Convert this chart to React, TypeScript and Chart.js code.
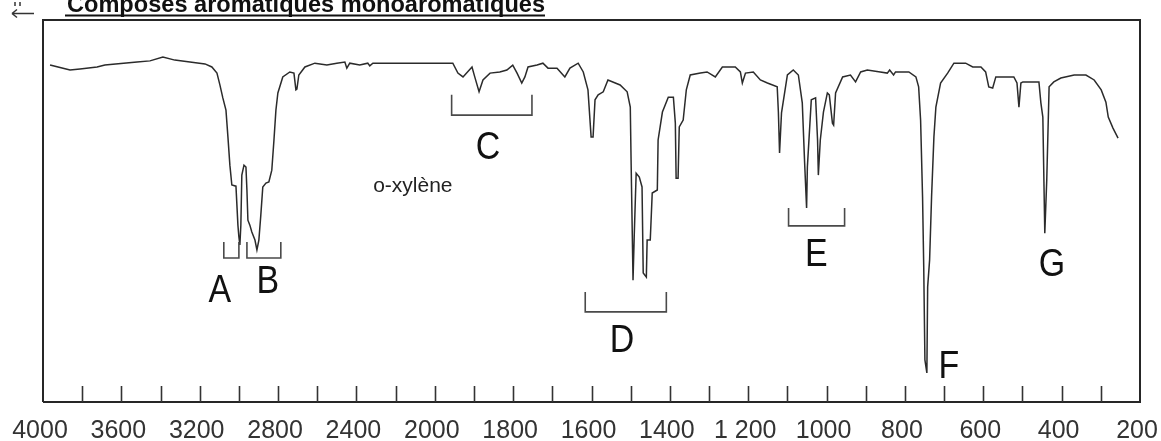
import React, { useEffect, useRef } from 'react';
import { Chart, LineController, LineElement, PointElement, LinearScale } from 'chart.js';

// ---------- data (wavenumber in cm-1, transmittance in %) ----------
const WAVENUMBERS = [
  3964, 3923, 3862, 3811, 3724, 3684, 3520, 3454, 3388, 3327, 3250, 3173, 3138, 3112, 3097, 3082, 3066, 3056,
  3046, 3036, 3015, 3005, 3000, 2995, 2990, 2985, 2974, 2964, 2959, 2954, 2944, 2934, 2918, 2908, 2898, 2888,
  2878, 2862, 2847, 2832, 2821, 2811, 2801, 2776, 2740, 2719, 2709, 2704, 2694, 2663, 2612, 2551, 2500, 2459,
  2449, 2434, 2383, 2342, 2332, 2316, 1954, 1941, 1928, 1905, 1898, 1887, 1877, 1859, 1834, 1816, 1801, 1790,
  1778, 1770, 1762, 1739, 1724, 1711, 1688, 1668, 1655, 1634, 1621, 1609, 1601, 1596, 1591, 1583, 1570, 1558,
  1527, 1509, 1501, 1499, 1494, 1491, 1486, 1478, 1471, 1468, 1460, 1458, 1450, 1445, 1432, 1430, 1419, 1404,
  1391, 1386, 1384, 1379, 1376, 1366, 1358, 1348, 1322, 1305, 1284, 1266, 1233, 1220, 1215, 1207, 1187, 1169,
  1151, 1126, 1123, 1120, 1115, 1100, 1085, 1072, 1062, 1056, 1051, 1049, 1039, 1028, 1023, 1021, 1016, 1008,
  998, 993, 985, 982, 977, 959, 939, 926, 913, 896, 863, 845, 839, 829, 824, 790, 772, 765,
  760, 755, 752, 749, 744, 742, 737, 732, 726, 721, 709, 691, 675, 645, 627, 606, 594, 586,
  576, 568, 522, 514, 509, 504, 499, 458, 453, 448, 443, 438, 432, 420, 402, 368, 338, 317,
  299, 287, 281, 269, 256,
];
const TRANSMITTANCE = [
  88.2, 87.7, 86.9, 87.2, 87.7, 88.2, 89.0, 89.3, 90.3, 89.5, 89.0, 88.5, 87.7, 86.1, 83.0, 79.6, 76.4, 69.4,
  62.0, 56.8, 56.5, 46.3, 43.2, 41.1, 46.3, 59.4, 62.0, 61.5, 55.5, 47.6, 46.3, 44.5, 42.4, 39.8, 42.4, 49.0,
  56.3, 57.3, 57.6, 60.7, 68.6, 76.4, 80.9, 85.1, 86.4, 86.1, 81.7, 81.9, 85.6, 87.7, 88.7, 88.2, 88.7, 89.0,
  87.4, 88.7, 88.2, 88.7, 88.0, 88.7, 88.7, 86.1, 85.1, 87.7, 85.1, 81.2, 84.3, 86.1, 86.4, 86.9, 88.2, 86.1,
  83.5, 85.1, 87.7, 88.2, 88.7, 87.4, 87.4, 85.1, 87.4, 88.7, 86.4, 81.7, 69.4, 69.4, 79.1, 80.4, 81.2, 84.3,
  83.0, 81.2, 77.2, 63.4, 31.9, 43.2, 59.9, 58.9, 56.3, 33.8, 32.7, 42.4, 42.4, 54.7, 55.5, 68.6, 75.9, 79.8,
  79.8, 73.0, 58.6, 58.6, 72.0, 73.8, 81.7, 85.6, 86.1, 86.4, 85.1, 87.7, 87.7, 86.4, 83.5, 86.1, 86.4, 84.3,
  83.5, 82.5, 75.9, 65.2, 75.7, 85.6, 86.9, 85.6, 78.3, 62.6, 50.8, 61.5, 79.1, 79.6, 68.6, 59.4, 68.6, 75.9,
  80.9, 80.4, 73.0, 72.5, 80.9, 85.1, 85.6, 83.8, 86.4, 86.9, 86.4, 86.1, 86.9, 85.6, 86.4, 86.4, 85.1, 82.5,
  73.8, 53.7, 35.3, 11.0, 7.6, 30.1, 37.2, 53.7, 69.4, 77.2, 83.5, 86.1, 88.7, 88.7, 87.7, 87.7, 86.4, 82.5,
  82.2, 85.1, 85.1, 83.5, 77.2, 83.5, 83.8, 83.8, 78.3, 74.6, 44.2, 58.1, 82.5, 83.8, 84.8, 85.6, 85.6, 84.3,
  81.7, 78.5, 74.6, 71.7, 69.1,
];

// ---------- axis ----------
const AXIS_START = 4000;
const AXIS_BREAK = 2000;
const AXIS_END = 200;
const EXPAND_BELOW_BREAK = 2;
const TICK_VALUES = [
  4000, 3800, 3600, 3400, 3200, 3000, 2800, 2600, 2400, 2200, 2000,
  1900, 1800, 1700, 1600, 1500, 1400, 1300, 1200, 1100, 1000, 900, 800, 700, 600, 500, 400, 300, 200,
];
const TICK_LABELS = [
  '4000', '', '3600', '', '3200', '', '2800', '', '2400', '', '2000',
  '', '1800', '', '1600', '', '1400', '', '1 200', '', '1000', '', '800', '', '600', '', '400', '', '200',
];

// ---------- annotations ----------
const BRACKET_FROM = [3077, 2959, 1957, 1616, 1097];
const BRACKET_TO = [3000, 2786, 1752, 1409, 954];
const BRACKET_TOP = [41.9, 41.9, 80.4, 28.8, 50.8];
const BRACKET_BOTTOM = [37.7, 37.7, 75.1, 23.6, 46.1];
const LETTERS = ['A', 'B', 'C', 'D', 'E', 'F', 'G'];
const LETTER_X = [3097, 2852, 1864, 1522, 1026, 688, 425];
const LETTER_Y = [29.1, 31.4, 66.5, 16.0, 38.5, 9.2, 35.9];
const COMPOUND = 'o-xylène';
const COMPOUND_X = 2112;
const COMPOUND_Y = 56.5;
const TITLE = 'Composés aromatiques monoaromatiques';

const FONT = "'Liberation Sans', Arial, Helvetica, sans-serif";

function toUnits(v: number) {
  return v >= AXIS_BREAK
    ? AXIS_START - v
    : (AXIS_START - AXIS_BREAK) + (AXIS_BREAK - v) * EXPAND_BELOW_BREAK;
}
const TOTAL_UNITS = toUnits(AXIS_END);

class WavenumberScale extends (LinearScale as any) {
  static id = 'wavenumber';
  static defaults = {};
  buildTicks() {
    return TICK_VALUES.map((value) => ({ value }));
  }
  getPixelForValue(value: number) {
    if (value === null || value === undefined || isNaN(value)) return NaN;
    return (this as any).getPixelForDecimal(toUnits(value) / TOTAL_UNITS);
  }
  getValueForPixel(pixel: number) {
    const u = (this as any).getDecimalForPixel(pixel) * TOTAL_UNITS;
    const head = AXIS_START - AXIS_BREAK;
    return u <= head ? AXIS_START - u : AXIS_BREAK - (u - head) / EXPAND_BELOW_BREAK;
  }
}

Chart.register(LineController, LineElement, PointElement, LinearScale, WavenumberScale as any);

const decorPlugin = {
  id: 'irDecor',
  afterDraw(chart: any) {
    const { ctx, chartArea } = chart;
    const { left, right, top, bottom } = chartArea;
    const xs = chart.scales.x;
    const ys = chart.scales.y;
    ctx.save();

    // frame
    ctx.strokeStyle = '#262626';
    ctx.lineWidth = 2;
    ctx.beginPath();
    ctx.moveTo(left, bottom);
    ctx.lineTo(left, top);
    ctx.lineTo(right, top);
    ctx.lineTo(right, bottom);
    ctx.lineTo(left, bottom);
    ctx.stroke();

    // inward tick marks
    ctx.lineWidth = 1.6;
    ctx.strokeStyle = '#333';
    ctx.beginPath();
    for (let i = 1; i < xs.ticks.length - 1; i++) {
      const px = Math.round(xs.getPixelForTick(i)) + 0.5;
      ctx.moveTo(px, bottom);
      ctx.lineTo(px, bottom - 16);
    }
    ctx.stroke();

    // brackets
    ctx.strokeStyle = '#4a4a4a';
    ctx.lineWidth = 1.6;
    for (let i = 0; i < BRACKET_FROM.length; i++) {
      const x1 = xs.getPixelForValue(BRACKET_FROM[i]);
      const x2 = xs.getPixelForValue(BRACKET_TO[i]);
      const yt = ys.getPixelForValue(BRACKET_TOP[i]);
      const yb = ys.getPixelForValue(BRACKET_BOTTOM[i]);
      ctx.beginPath();
      ctx.moveTo(x1, yt);
      ctx.lineTo(x1, yb);
      ctx.lineTo(x2, yb);
      ctx.lineTo(x2, yt);
      ctx.stroke();
    }

    // peak letters
    ctx.fillStyle = '#111';
    ctx.textAlign = 'center';
    ctx.textBaseline = 'middle';
    ctx.font = `39px ${FONT}`;
    for (let i = 0; i < LETTERS.length; i++) {
      const px = xs.getPixelForValue(LETTER_X[i]);
      const py = ys.getPixelForValue(LETTER_Y[i]);
      ctx.save();
      ctx.translate(px, py);
      ctx.scale(0.87, 1);
      ctx.fillText(LETTERS[i], 0, 0);
      ctx.restore();
    }

    // compound name
    ctx.fillStyle = '#222';
    ctx.font = `21px ${FONT}`;
    ctx.fillText(COMPOUND, xs.getPixelForValue(COMPOUND_X), ys.getPixelForValue(COMPOUND_Y));

    // clipped heading at the very top
    ctx.textAlign = 'left';
    ctx.textBaseline = 'alphabetic';
    ctx.font = `bold 24px ${FONT}`;
    ctx.fillStyle = '#111';
    const w = ctx.measureText(TITLE).width;
    ctx.save();
    ctx.translate(67, 12);
    ctx.scale(478 / w, 1);
    ctx.fillText(TITLE, 0, 0);
    ctx.restore();
    ctx.fillRect(65, 14.5, 480, 2);
    // little arrow at top left
    ctx.strokeStyle = '#333';
    ctx.lineWidth = 1.5;
    ctx.beginPath();
    ctx.moveTo(12, 13.5);
    ctx.lineTo(34, 13.5);
    ctx.moveTo(12, 13.5);
    ctx.lineTo(17, 9.5);
    ctx.moveTo(12, 13.5);
    ctx.lineTo(17, 17.5);
    ctx.moveTo(15, 2);
    ctx.lineTo(15, 6);
    ctx.moveTo(20, 2);
    ctx.lineTo(20, 6);
    ctx.stroke();

    ctx.restore();
  },
};

export default function App() {
  const ref = useRef<HTMLCanvasElement>(null);
  useEffect(() => {
    const canvas = ref.current;
    if (!canvas) return;
    const chart = new Chart(canvas, {
      type: 'line',
      data: {
        datasets: [
          {
            data: WAVENUMBERS.map((w, i) => ({ x: w, y: TRANSMITTANCE[i] })),
            borderColor: '#2b2b2b',
            borderWidth: 1.5,
            pointRadius: 0,
            tension: 0,
            fill: false,
          },
        ],
      },
      options: {
        animation: false,
        responsive: false,
        devicePixelRatio: 1,
        events: [],
        layout: { padding: { left: 43, right: 21, top: 20, bottom: 0 } },
        scales: {
          x: {
            type: 'wavenumber' as any,
            min: AXIS_END,
            max: AXIS_START,
            grid: { display: false, drawTicks: false },
            border: { display: false },
            afterFit: (scale: any) => {
              scale.height = 39;
              scale.paddingLeft = 0;
              scale.paddingRight = 0;
            },
            ticks: {
              autoSkip: false,
              maxRotation: 0,
              minRotation: 0,
              padding: 18,
              labelOffset: -3,
              color: '#333',
              font: { family: FONT, size: 25, lineHeight: 0.88 },
              callback: (_v: any, i: number) => TICK_LABELS[i],
            },
          },
          y: { type: 'linear', min: 0, max: 100, display: false },
        },
      } as any,
      plugins: [decorPlugin],
    });
    return () => chart.destroy();
  }, []);
  return (
    <div style={{ position: 'fixed', left: 0, top: 0, width: 1161, height: 441, background: '#fff', overflow: 'hidden' }}>
      <canvas ref={ref} width={1161} height={441} style={{ display: 'block', width: 1161, height: 441 }} />
    </div>
  );
}
